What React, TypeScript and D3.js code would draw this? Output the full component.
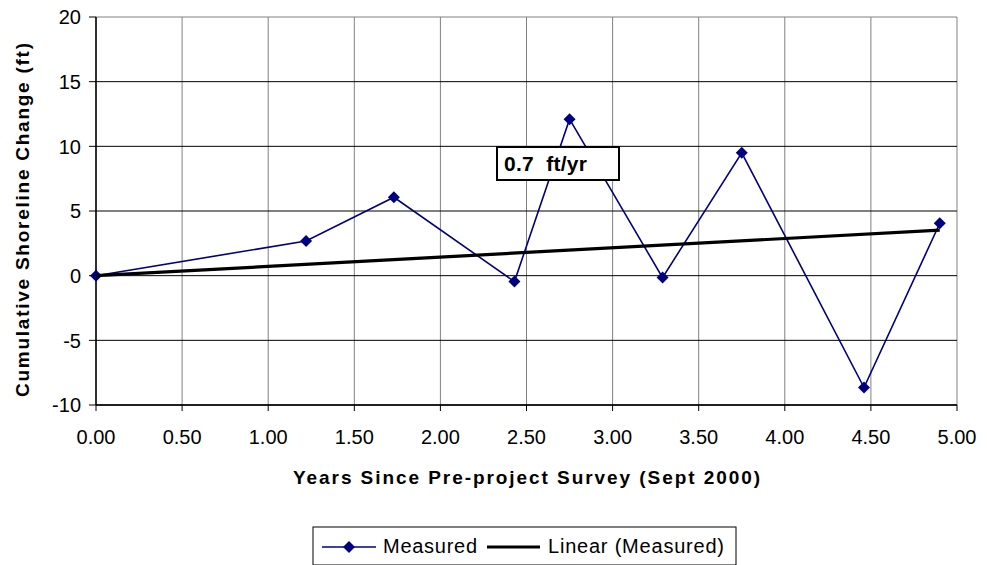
import React from "react";
import * as d3 from "d3";

const years = [0, 1.22, 1.73, 2.43, 2.75, 3.29, 3.75, 4.46, 4.9];
const change = [0, 2.68, 6.06, -0.46, 12.1, -0.15, 9.5, -8.65, 4.05];
const xTicks = [0, 0.5, 1, 1.5, 2, 2.5, 3, 3.5, 4, 4.5, 5];
const yTicks = [-10, -5, 0, 5, 10, 15, 20];
const rateLabel = "0.7  ft/yr";
const seriesNames = ["Measured", "Linear (Measured)"];

const W = 987, H = 565;
const L = 96, R = 957, T = 17, B = 405;
const FONT = "'Liberation Sans', Arial, sans-serif";

export default function App() {
  const x = d3.scaleLinear().domain([0, 5]).range([L, R]);
  const y = d3.scaleLinear().domain([-10, 20]).range([B, T]);
  const pts = years.map((v, i) => [v, change[i]] as [number, number]);
  const sxy = d3.sum(pts, (p) => p[0] * p[1]);
  const sxx = d3.sum(pts, (p) => p[0] * p[0]);
  const slope = sxy / sxx;
  const xMax = d3.max(years) as number;
  const line = d3.line<[number, number]>().x((d) => x(d[0])).y((d) => y(d[1]));
  const diamond = (cx: number, cy: number, r = 6) =>
    `M${cx},${cy - r}L${cx + r},${cy}L${cx},${cy + r}L${cx - r},${cy}Z`;

  return (
    <svg width={W} height={H} style={{ position: "absolute", left: 0, top: 0, background: "#fff" }} fontFamily={FONT}>
      <rect x={0} y={0} width={W} height={H} fill="#fff" />
      {xTicks.map((t) => (
        <line key={"vx" + t} x1={x(t)} x2={x(t)} y1={T} y2={B} stroke="#808080" strokeWidth={1} />
      ))}
      {yTicks.map((t) => (
        <line key={"hy" + t} x1={L} x2={R} y1={y(t)} y2={y(t)} stroke={t === 20 ? "#808080" : "#000"} strokeWidth={1} />
      ))}
      <line x1={L} x2={L} y1={T} y2={B} stroke="#000" strokeWidth={1.5} />
      <line x1={L} x2={R} y1={B} y2={B} stroke="#000" strokeWidth={1.5} />
      {yTicks.map((t) => (
        <g key={"yt" + t}>
          <line x1={L - 7} x2={L} y1={y(t)} y2={y(t)} stroke="#000" />
          <text x={81} y={y(t)} dy="0.36em" textAnchor="end" fontSize={20} fill="#000">{t}</text>
        </g>
      ))}
      {xTicks.map((t) => (
        <g key={"xt" + t}>
          <line x1={x(t)} x2={x(t)} y1={B} y2={B + 6} stroke="#000" />
          <text x={x(t)} y={444} textAnchor="middle" fontSize={20} fill="#000">{t.toFixed(2)}</text>
        </g>
      ))}
      <text x={293} y={484} textLength={467} lengthAdjust="spacing" fontSize={19} fontWeight="bold" fill="#000">
        Years Since Pre-project Survey (Sept 2000)
      </text>
      <text transform={`translate(29,397) rotate(-90)`} textLength={354} lengthAdjust="spacing" fontSize={19} fontWeight="bold" fill="#000">
        Cumulative Shoreline Change (ft)
      </text>
      <path d={line(pts) || ""} fill="none" stroke="#000080" strokeWidth={1.6} />
      {pts.map((p, i) => (
        <path key={"m" + i} d={diamond(x(p[0]), y(p[1]))} fill="#000080" />
      ))}
      <path d={line([[0, 0], [xMax, slope * xMax]]) || ""} fill="none" stroke="#000" strokeWidth={3.2} />
      <rect x={497} y={147} width={122} height={33} fill="#fff" stroke="#000" strokeWidth={2} />
      <text x={504} y={171} textLength={83} lengthAdjust="spacing" fontSize={21} fontWeight="bold" fill="#000" style={{ whiteSpace: "pre" }}>{rateLabel}</text>
      <rect x={313} y={527} width={423} height={38} fill="#fff" stroke="#000" strokeWidth={1} />
      <line x1={322} x2={376} y1={547} y2={547} stroke="#000080" strokeWidth={1.6} />
      <path d={diamond(349, 547)} fill="#000080" />
      <text x={383} y={553} textLength={94} lengthAdjust="spacing" fontSize={20} fill="#000">{seriesNames[0]}</text>
      <line x1={487} x2={540} y1={547} y2={547} stroke="#000" strokeWidth={3.2} />
      <text x={548} y={553} textLength={176} lengthAdjust="spacing" fontSize={20} fill="#000">{seriesNames[1]}</text>
    </svg>
  );
}
